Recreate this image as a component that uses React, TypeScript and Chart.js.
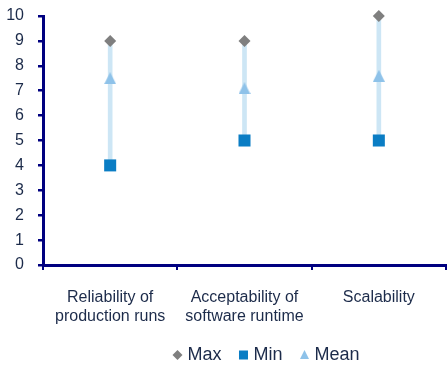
import React, { useEffect, useRef } from 'react';
import { Chart, registerables } from 'chart.js';

Chart.register(...registerables);

// Survey ratings per criterion
const categories: (string | string[])[] = [
  ['Reliability of', 'production runs'],
  ['Acceptability of', 'software runtime'],
  'Scalability',
];
const maxValues = [9, 9, 10];
const minValues = [4, 5, 5];
const meanValues = [7.5, 7.1, 7.6];
const yMin = 0;
const yMax = 10;
const yStep = 1;

const AXIS_COLOR = '#000080';
const TEXT_COLOR = '#1C2B4A';
const FONT_FAMILY = "'Liberation Sans', Arial, sans-serif";
const MAX_COLOR = '#7F7F7F';
const MIN_COLOR = '#0A7DC4';
const MEAN_COLOR = '#8EC2E9';
const RANGE_COLOR = '#CDE6F5';

function makeTriangle(w: number, h: number, color: string): HTMLCanvasElement {
  const c = document.createElement('canvas');
  c.width = w;
  c.height = h;
  const g = c.getContext('2d')!;
  g.fillStyle = color;
  g.beginPath();
  g.moveTo(w / 2, 0);
  g.lineTo(w, h);
  g.lineTo(0, h);
  g.closePath();
  g.fill();
  return c;
}

type LegendEntry = { label: string; marker: 'diamond' | 'square' | 'triangle'; color: string };

const legendEntries: LegendEntry[] = [
  { label: 'Max', marker: 'diamond', color: MAX_COLOR },
  { label: 'Min', marker: 'square', color: MIN_COLOR },
  { label: 'Mean', marker: 'triangle', color: MEAN_COLOR },
];

// Legend drawn under the axis labels, shifted slightly right of the plot centre
const bottomLegend = {
  id: 'bottomLegend',
  afterDraw(chart: Chart) {
    const ctx = chart.ctx;
    const area = chart.chartArea;
    ctx.save();
    ctx.font = `18px ${FONT_FAMILY}`;
    ctx.textBaseline = 'middle';
    ctx.textAlign = 'left';
    const markerW = 10;
    const markerGap = 10;
    const itemGap = 12;
    const widths = legendEntries.map((e) => markerW / 2 + markerGap + ctx.measureText(e.label).width);
    const total = widths.reduce((a, b) => a + b, 0) + itemGap * (legendEntries.length - 1) + markerW / 2;
    let x = (area.left + area.right) / 2 + 19 - total / 2;
    const y = 355;
    legendEntries.forEach((e, i) => {
      const cx = x + markerW / 2;
      ctx.fillStyle = e.color;
      ctx.beginPath();
      if (e.marker === 'diamond') {
        ctx.moveTo(cx, y - 5);
        ctx.lineTo(cx + 5, y);
        ctx.lineTo(cx, y + 5);
        ctx.lineTo(cx - 5, y);
        ctx.closePath();
        ctx.fill();
      } else if (e.marker === 'square') {
        ctx.fillRect(cx - 4.5, y - 4.5, 9, 9);
      } else {
        ctx.moveTo(cx, y - 5);
        ctx.lineTo(cx + 4.5, y + 4);
        ctx.lineTo(cx - 4.5, y + 4);
        ctx.closePath();
        ctx.fill();
      }
      ctx.fillStyle = TEXT_COLOR;
      ctx.fillText(e.label, cx + markerGap, y);
      x += widths[i] + markerW / 2 + itemGap;
    });
    ctx.restore();
  },
};

function clearScalePadding(scale: any) {
  scale.paddingTop = 0;
  scale.paddingBottom = 0;
  scale.paddingLeft = 0;
  scale.paddingRight = 0;
}

export default function App() {
  const canvasRef = useRef<HTMLCanvasElement | null>(null);

  useEffect(() => {
    document.body.style.margin = '0';
    const canvas = canvasRef.current;
    if (!canvas) return;
    const meanMarker = makeTriangle(12, 12, MEAN_COLOR);

    const chart = new Chart(canvas, {
      type: 'bar',
      data: {
        labels: categories,
        datasets: [
          {
            type: 'line',
            label: 'Max',
            data: maxValues,
            showLine: false,
            pointStyle: 'rectRot',
            pointRadius: 6,
            pointBorderWidth: 0,
            backgroundColor: MAX_COLOR,
            borderColor: MAX_COLOR,
            clip: false,
            order: 1,
          },
          {
            type: 'line',
            label: 'Min',
            data: minValues,
            showLine: false,
            pointStyle: 'rect',
            pointRadius: 8.5,
            pointBorderWidth: 0,
            backgroundColor: MIN_COLOR,
            borderColor: MIN_COLOR,
            clip: false,
            order: 2,
          },
          {
            type: 'line',
            label: 'Mean',
            data: meanValues,
            showLine: false,
            pointStyle: meanMarker,
            pointRadius: 6,
            backgroundColor: MEAN_COLOR,
            borderColor: MEAN_COLOR,
            clip: false,
            order: 0,
          },
          {
            type: 'bar',
            label: 'Range',
            data: minValues.map((v, i) => [v, maxValues[i]]),
            backgroundColor: RANGE_COLOR,
            borderWidth: 0,
            barThickness: 4,
            order: 10,
          },
        ],
      },
      options: {
        animation: false,
        responsive: false,
        events: [],
        layout: { autoPadding: false, padding: { top: 16, right: 1, left: 0, bottom: 0 } },
        plugins: {
          legend: { display: false },
          tooltip: { enabled: false },
        },
        scales: {
          x: {
            offset: true,
            grid: {
              offset: true,
              drawOnChartArea: false,
              drawTicks: true,
              tickLength: 5,
              color: AXIS_COLOR,
              lineWidth: 2,
            },
            border: { display: true, color: AXIS_COLOR, width: 3 },
            ticks: {
              color: TEXT_COLOR,
              padding: 18,
              maxRotation: 0,
              autoSkip: false,
              font: { family: FONT_FAMILY, size: 16, lineHeight: 1.2 },
            },
            afterFit: (scale: any) => {
              scale.height = 100;
              clearScalePadding(scale);
            },
          },
          y: {
            min: yMin,
            max: yMax,
            grid: {
              drawOnChartArea: false,
              drawTicks: true,
              tickLength: 5,
              color: AXIS_COLOR,
              lineWidth: 2.5,
            },
            border: { display: true, color: AXIS_COLOR, width: 3 },
            ticks: {
              stepSize: yStep,
              color: TEXT_COLOR,
              padding: 14,
              font: { family: FONT_FAMILY, size: 16 },
            },
            afterFit: (scale: any) => {
              scale.width = 43;
              clearScalePadding(scale);
            },
          },
        },
      },
      plugins: [bottomLegend],
    });
    return () => chart.destroy();
  }, []);

  return (
    <div style={{ position: 'absolute', left: 0, top: 0, width: 447, height: 365, background: '#fff' }}>
      <canvas ref={canvasRef} width={447} height={365} />
    </div>
  );
}
